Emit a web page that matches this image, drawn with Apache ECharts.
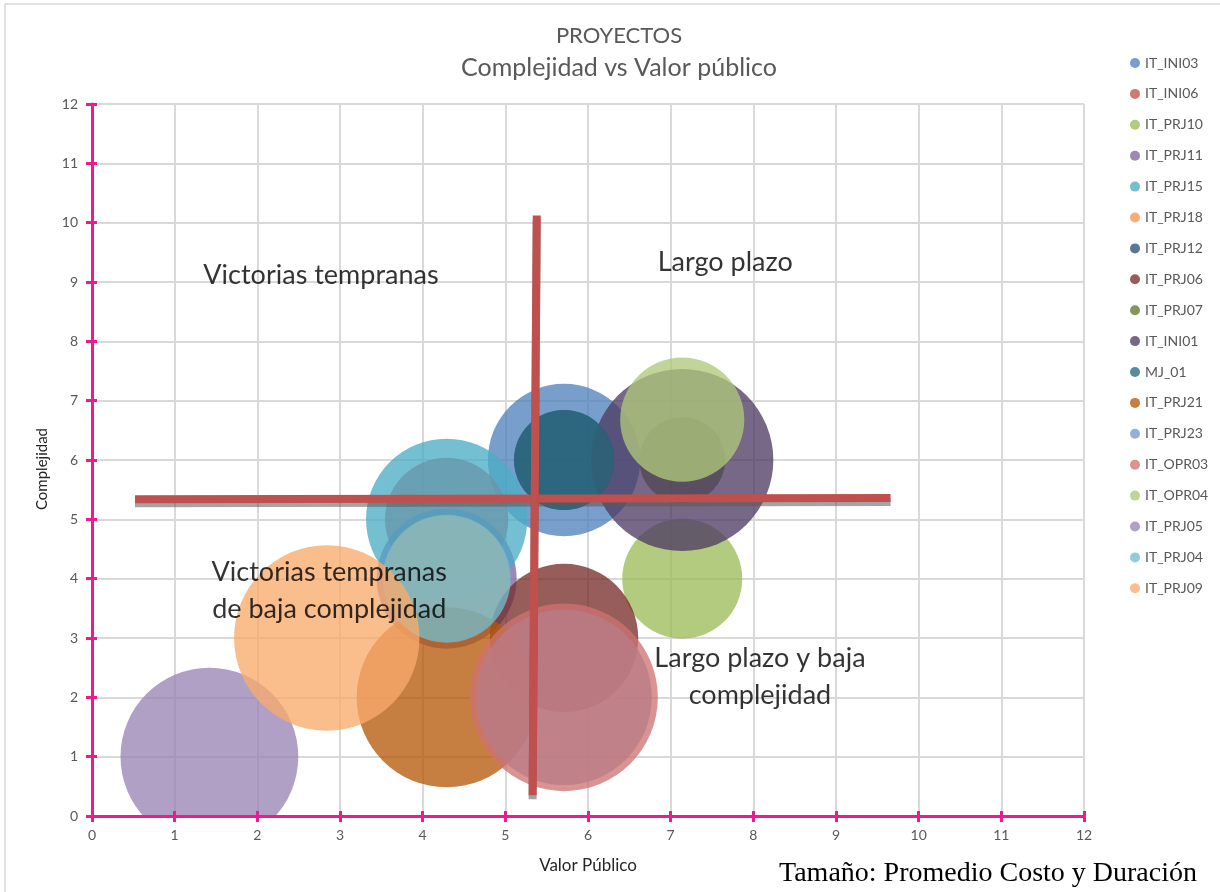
<!DOCTYPE html>
<html>
<head>
<meta charset="utf-8">
<script src="https://cdn.jsdelivr.net/npm/echarts@6/dist/echarts.min.js"></script>
<style>
  html, body { margin: 0; padding: 0; background: #ffffff; }
  #chart { width: 1220px; height: 892px; }
</style>
</head>
<body>
<div id="chart"></div>
<script>
// Projects: [valor público, complejidad, tamaño (promedio costo y duración)]
const projectNames = ['IT_INI03','IT_INI06','IT_PRJ10','IT_PRJ11','IT_PRJ15','IT_PRJ18',
  'IT_PRJ12','IT_PRJ06','IT_PRJ07','IT_INI01','MJ_01','IT_PRJ21',
  'IT_PRJ23','IT_OPR03','IT_OPR04','IT_PRJ05','IT_PRJ04','IT_PRJ09'];
const valorPublico = [5.71, 4.29, 7.14, 4.29, 4.29, 4.29, 5.71, 5.71, 7.14, 7.14, 5.71, 4.29, 5.71, 5.71, 7.14, 1.42, 4.29, 2.84];
const complejidad  = [6,    5,    4,    4,    5,    4,    6,    3,    6,    6,    6,    2,    2,    2,    6.68, 1,   4,    3];
const tamano       = [58,   38,   36,   49,   65,   40,   25,   55,   18.5, 83,   25,   81,   77,   88,   38.5, 79,   41,   86];
const palette = ['#4F81BD','#C0504D','#9BBB59','#8064A2','#4BACC6','#F79646',
  '#2C4D75','#772C2A','#5F7530','#4D3B62','#276A7C','#B65708',
  '#729ACA','#CD7371','#AFC97A','#9983B5','#6FBDD1','#F9AB6B'];

// Quadrant divider lines (data coordinates)
const divisorHorizontal = [[0.52, 5.34], [9.66, 5.36]];
const divisorVertical   = [[5.38, 10.12], [5.33, 0.35]];

// Quadrant captions anchored in data coordinates
const quadrantNotes = [
  { name: 'Victorias tempranas', value: [2.77, 9.12] },
  { name: 'Largo plazo', value: [7.66, 9.34] },
  { name: 'Victorias tempranas\nde baja complejidad', value: [2.87, 3.79] },
  { name: 'Largo plazo y baja\ncomplejidad', value: [8.08, 2.34] }
];

const PINK = '#EE1A8E';
const FONT = 'Lato, "Open Sans", sans-serif';

const chart = echarts.init(document.getElementById('chart'), null, { renderer: 'canvas' });

const bubbleSeries = projectNames.map((name, i) => ({
  name: name,
  type: 'scatter',
  xAxisIndex: 0,
  yAxisIndex: 0,
  data: [[valorPublico[i], complejidad[i], tamano[i]]],
  symbolSize: d => Math.sqrt(d[2]) * 20,
  itemStyle: { color: palette[i], opacity: 0.77 },
  emphasis: { disabled: true },
  z: 2
}));

const lineStyleDivider = {
  color: '#C0504D', width: 8, cap: 'butt',
  shadowColor: 'rgba(90,90,90,0.55)', shadowBlur: 0, shadowOffsetX: 0, shadowOffsetY: 4
};

// Three stacked axes per direction: grid lines (below bubbles),
// main line + outer ticks + labels (above), inner tick halves (above).
function axisSet(kind) {
  const scale = { type: 'value', min: 0, max: 12, interval: 1, position: kind === 'x' ? 'bottom' : 'left' };
  const gridAxis = Object.assign({}, scale, {
    z: 0,
    axisLine: { show: false }, axisTick: { show: false }, axisLabel: { show: false },
    splitLine: { show: true, lineStyle: { color: '#D9D9D9', width: 2 } }
  });
  const mainAxis = Object.assign({}, scale, {
    z: 10,
    axisLine: { show: true, lineStyle: { color: PINK, width: 3 } },
    axisTick: { show: true, inside: false, length: 6, lineStyle: { color: PINK, width: 3 } },
    splitLine: { show: false },
    axisLabel: { color: '#595959', fontSize: 14, fontFamily: FONT, margin: kind === 'x' ? 12 : 14 }
  });
  const innerTicks = Object.assign({}, scale, {
    z: 10,
    axisLine: { show: false },
    axisTick: { show: true, inside: true, length: 5, lineStyle: { color: PINK, width: 3 } },
    splitLine: { show: false },
    axisLabel: { show: false }
  });
  return [gridAxis, mainAxis, innerTicks];
}

const xAxes = axisSet('x');
xAxes[1].name = 'Valor Público';
xAxes[1].nameLocation = 'middle';
xAxes[1].nameGap = 41;
xAxes[1].nameTextStyle = { color: '#262626', fontSize: 17, fontFamily: FONT };

const yAxes = axisSet('y');

chart.setOption({
  animation: false,
  backgroundColor: '#ffffff',
  textStyle: { fontFamily: FONT },
  title: {
    text: '{a|PROYECTOS}\n{b|Complejidad vs Valor público}',
    left: 614, top: 15, textAlign: 'center',
    textStyle: {
      fontWeight: 'normal',
      rich: {
        a: { color: '#595959', fontSize: 22, fontWeight: 'normal', lineHeight: 32, fontFamily: FONT },
        b: { color: '#595959', fontSize: 25, fontWeight: 'normal', lineHeight: 32, fontFamily: FONT }
      }
    }
  },
  legend: {
    orient: 'vertical',
    left: 1130, top: 56, padding: 0,
    data: projectNames,
    icon: 'circle',
    itemWidth: 10, itemHeight: 10,
    itemGap: 16.9,
    textStyle: { color: '#595959', fontSize: 14, lineHeight: 14, fontFamily: FONT },
    selectedMode: false
  },
  grid: { left: 92, right: 136, top: 104, bottom: 76, containLabel: false },
  xAxis: xAxes,
  yAxis: yAxes,
  graphic: [
    {
      type: 'rect', silent: true, z: -10,
      shape: { x: 5, y: 4, width: 1240, height: 920 },
      style: { fill: 'none', stroke: '#D9D9D9', lineWidth: 1.5 }
    },
    {
      // keeps bubbles inside the plotting area
      type: 'rect', silent: true, z: 4,
      shape: { x: 7, y: 817, width: 1100, height: 80 },
      style: { fill: '#ffffff' }
    },
    {
      type: 'text', silent: true, z: 10,
      x: 42, y: 469, rotation: Math.PI / 2,
      style: {
        text: 'Complejidad', fill: '#262626',
        font: '15px Lato, "Open Sans", sans-serif',
        align: 'center', verticalAlign: 'middle'
      }
    },
    {
      type: 'text', silent: true, z: 10,
      right: 23, top: 860,
      style: {
        text: 'Tamaño: Promedio Costo y Duración',
        font: '28px "Liberation Serif", "DejaVu Serif", serif',
        fill: '#000000'
      }
    }
  ],
  series: bubbleSeries.concat([
    {
      name: 'divisor-h', type: 'line', data: divisorHorizontal,
      symbol: 'none', lineStyle: lineStyleDivider, z: 5, silent: true
    },
    {
      name: 'divisor-v', type: 'line', data: divisorVertical,
      symbol: 'none', lineStyle: lineStyleDivider, z: 5, silent: true
    },
    {
      name: 'notas', type: 'scatter', data: quadrantNotes,
      symbolSize: 1, itemStyle: { color: 'rgba(0,0,0,0)' }, silent: true, z: 6,
      label: {
        show: true, position: 'inside', formatter: p => p.name,
        color: '#000000', fontSize: 27, lineHeight: 37, fontFamily: FONT, align: 'center'
      }
    }
  ])
});
</script>
</body>
</html>
